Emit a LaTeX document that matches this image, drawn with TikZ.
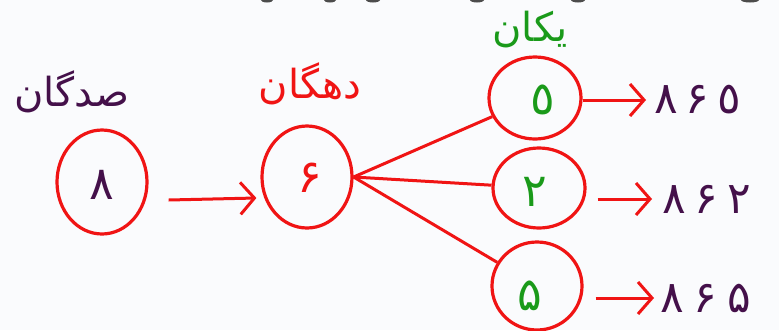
\documentclass[tikz,border=0pt]{standalone}
\usepackage{fontspec}
\newfontfamily\arabicfont[Script=Arabic]{DejaVu Sans}
\TeXXeTstate=1
\usetikzlibrary{arrows.meta,shapes.geometric}
\definecolor{rd}{HTML}{F01414}
\definecolor{pu}{HTML}{44104A}
\definecolor{gr}{HTML}{1A9A1A}
\definecolor{bg}{HTML}{FAFBFD}
\begin{document}
\begin{tikzpicture}[x=1pt,y=-1pt,
  circ/.style={draw=rd,line width=3.2pt,ellipse,inner sep=0pt},
  dig/.style={font=\arabicfont\fontsize{46}{50}\selectfont},
  outp/.style={anchor=west,inner sep=0pt,text=pu,font=\arabicfont\fontsize{44}{48}\selectfont},
  lbl/.style={font=\arabicfont\fontsize{40}{44}\selectfont},
  arr/.style={draw=rd,line width=3pt,-{Straight Barb[length=14pt,width=32pt,line width=3pt]}},
  ln/.style={draw=rd,line width=3pt}]
\fill[bg] (0,0) rectangle (779,330);
\useasboundingbox (0,0) rectangle (779,330);
% cut-off marks at top
\foreach \x/\w in {267/6,330/6,373/7,477/7,578/7,750/9}
  \fill[black!70] (\x,0) ellipse [x radius=\w pt,y radius=2.5pt];
% circles
\node[circ,minimum width=90pt,minimum height=104pt] (c8) at (102,182) {};
\node[dig,text=pu] (d8) at (102,185) {۸};
\node[circ,minimum width=90pt,minimum height=102pt] (c6) at (307,177) {};
\node[dig,text=rd] (d6) at (310,178) {۶};
\node[circ,minimum width=92pt,minimum height=82pt] (c5a) at (535,98) {};
\node[dig,text=gr] (d5a) at (543,100) {٥};
\node[circ,minimum width=92pt,minimum height=80pt] (c2) at (539,188) {};
\node[dig,text=gr] (d2) at (535,192) {۲};
\node[circ,minimum width=90pt,minimum height=88pt] (c5b) at (537,286) {};
\node[dig,text=gr] (d5b) at (530,296) {۵};
% labels
\node[lbl,text=pu] (l100) at (72,92) {\beginR صدگان\endR};
\node[lbl,text=rd] (l10) at (310,84) {\beginR دهگان\endR};
\node[lbl,text=gr] (l1) at (530,30) {\beginR یکان\endR};
% outputs
\node[outp] (o1) at (654,100) {۸\hspace{8pt}۶\hspace{8pt}٥};
\node[outp] (o2) at (662,199) {۸\hspace{9pt}۶\hspace{9pt}۲};
\node[outp] (o3) at (660,298) {۸\hspace{10pt}۶\hspace{10pt}۵};
% connectors
\draw[arr] ([shift={(20,18)}]c8.east) -- ([shift={(-4,21)}]c6.west);
\draw[ln] (c6.east) -- (c5a);
\draw[ln] (c6.east) -- (c2);
\draw[ln] (c6.east) -- (c5b);
\draw[arr,shorten >=8pt] (c5a.east |- o1.west) -- (o1.west);
\draw[arr,shorten >=10pt] ([xshift=11]c2.east |- o2.west) -- (o2.west);
\draw[arr,shorten >=6pt] ([xshift=12]c5b.east |- o3.west) -- (o3.west);
\end{tikzpicture}
\end{document}
